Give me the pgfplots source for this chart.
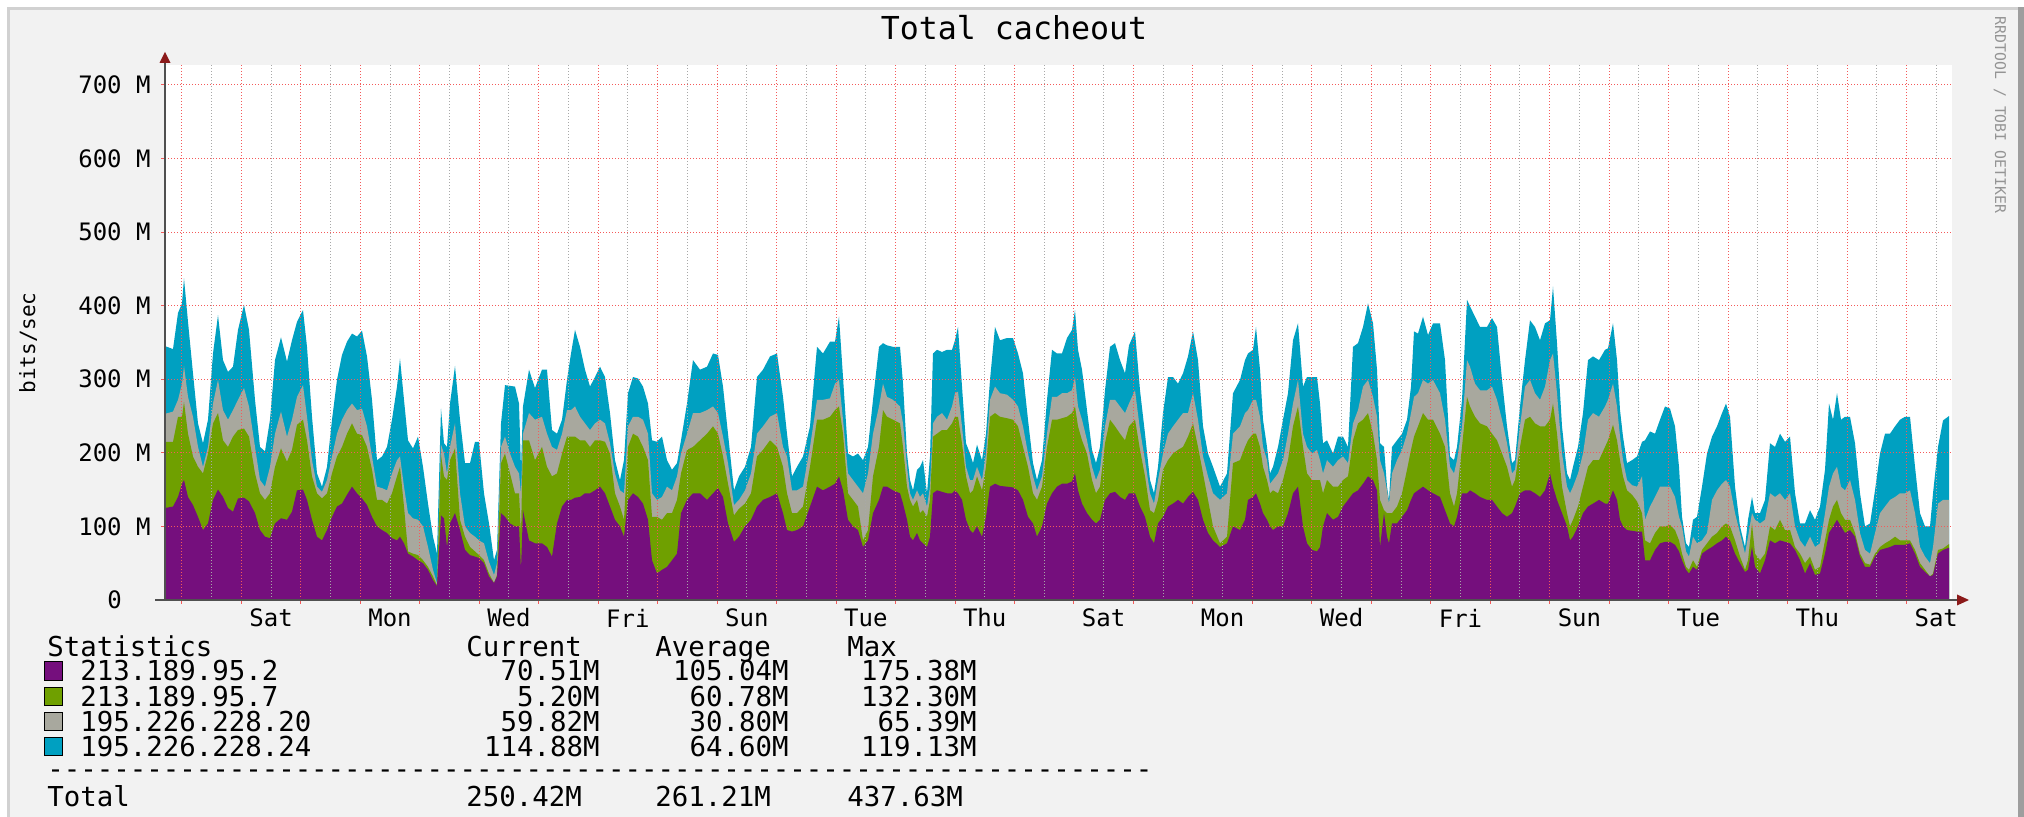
\documentclass[border=0pt]{standalone}
\usepackage{pgfplots}
\pgfplotsset{compat=1.18}
\usepackage{pgfplotstable}
\usepackage{fontspec}
\setmainfont{DejaVu Sans Mono}
\usetikzlibrary{arrows.meta}

\definecolor{cPur}{HTML}{750F7D}
\definecolor{cGrn}{HTML}{6FA000}
\definecolor{cGry}{HTML}{A8A89E}
\definecolor{cBlu}{HTML}{00A0C1}
\definecolor{bgc}{HTML}{F2F2F2}
\definecolor{mgrid}{HTML}{F45A5A}
\definecolor{ngrid}{HTML}{A8A8A8}
\definecolor{arrowc}{HTML}{8B1A1A}
\definecolor{axisc}{HTML}{505050}

\newcommand\leg{\fontsize{13.7pt}{16pt}\selectfont}

% X = time (one unit per pixel column of the RRD graph); columns = top of each stacked layer (M bits/sec)
% P = 213.189.95.2, G = P + 213.189.95.7, Y = G + 195.226.228.20, B = Y + 195.226.228.24
\pgfplotstableread{
X B Y G P
0 345 253 215 125
8 341 256 215 127
13 390 272 249 140
17 403 294 249 158
19 437 318 269 163
23 378 276 226 140
28 308 249 195 129
33 240 208 181 113
38 213 181 172 95
43 245 208 199 104
48 335 267 240 136
53 387 299 254 150
58 326 258 217 140
63 310 245 208 125
68 317 258 222 120
73 367 272 231 138
79 401 288 233 139
84 367 263 222 134
90 272 208 172 118
95 208 163 145 95
100 202 154 136 86
105 245 181 145 84
110 326 226 181 104
116 357 256 206 111
122 324 222 188 109
127 353 245 204 120
132 378 276 238 149
138 394 292 245 150
142 344 249 217 136
147 249 190 168 109
152 172 154 145 86
157 154 147 138 81
162 181 163 145 95
167 245 195 172 113
172 299 226 195 127
177 333 245 208 131
182 351 258 226 143
187 362 267 240 154
192 358 258 226 145
197 366 260 224 138
202 331 236 208 129
207 272 195 177 113
212 190 154 136 100
217 195 152 136 95
222 208 149 131 91
227 245 172 145 84
232 290 190 168 81
235 328 195 181 86
239 272 154 127 77
243 217 118 66 63
248 206 111 63 59
253 222 109 61 54
258 181 100 54 50
263 131 72 45 41
268 86 41 32 27
272 63 23 20 19
276 260 211 197 115
279 213 199 168 111
282 208 172 163 72
285 267 208 190 104
290 318 240 206 118
295 245 145 109 95
300 186 100 86 68
305 186 91 72 61
310 215 86 66 59
314 215 81 61 57
319 145 77 54 50
324 104 52 36 32
329 54 34 23 23
332 68 50 34 32
336 240 208 186 118
340 292 222 199 113
345 291 199 172 104
350 290 181 145 100
354 267 172 145 100
356 179 145 91 41
358 263 226 217 122
364 313 254 217 81
370 288 245 190 77
377 313 249 208 77
382 313 226 181 72
387 231 208 168 59
392 226 204 172 104
397 245 226 199 127
402 299 258 222 136
406 335 258 222 136
410 367 263 222 139
415 344 249 217 140
420 313 240 217 145
425 290 231 208 145
430 303 240 217 149
435 317 245 217 154
440 303 240 215 145
445 254 213 199 127
450 190 172 145 109
455 163 149 127 100
459 190 145 109 86
463 281 236 208 136
468 303 249 226 145
473 301 249 222 140
478 290 245 208 131
483 267 226 190 109
487 217 145 113 54
492 215 136 113 36
497 222 140 109 41
502 190 154 118 45
507 177 149 118 54
512 186 168 136 63
516 217 199 172 118
522 267 226 204 136
528 326 254 208 145
535 313 254 217 145
542 317 258 226 136
548 335 263 236 145
553 333 254 226 152
558 290 222 195 140
563 226 186 158 104
569 149 129 115 79
574 168 136 124 86
580 181 149 131 100
586 208 172 145 109
592 303 226 195 127
598 313 236 204 136
605 331 249 217 140
612 335 254 208 145
618 276 208 181 118
622 226 195 145 95
627 168 149 118 93
632 181 149 118 95
638 195 154 127 100
645 236 208 181 127
652 344 272 245 154
658 335 272 245 149
665 351 274 249 154
670 351 294 258 158
674 385 299 263 168
678 303 245 226 149
683 199 172 145 109
688 195 163 136 100
693 199 154 127 95
698 190 145 81 72
703 208 172 95 81
708 272 226 168 118
714 344 263 208 136
718 349 294 258 154
722 346 276 249 154
728 344 272 245 149
735 344 263 240 145
738 294 240 208 131
742 199 181 154 109
745 163 145 136 86
748 149 136 127 81
752 177 149 136 91
755 181 140 118 81
758 190 145 122 77
762 145 127 113 72
765 195 154 136 86
768 335 240 222 145
772 340 249 226 149
777 337 254 231 147
782 340 245 231 145
787 340 263 240 145
790 353 281 249 149
793 371 283 249 145
797 290 236 213 136
801 213 181 168 109
805 199 163 145 95
808 186 163 149 91
812 211 181 168 100
817 190 163 149 86
821 226 199 181 113
825 299 272 249 154
830 371 290 254 158
835 353 281 249 155
842 356 279 247 154
848 356 272 245 153
853 335 263 236 149
858 308 236 208 136
863 245 199 181 113
868 186 168 145 104
872 163 149 136 86
877 190 168 154 100
882 272 226 208 131
887 340 276 245 145
892 335 276 245 154
897 335 281 247 158
902 356 281 249 158
907 367 285 254 161
910 394 303 263 172
913 340 263 236 149
917 313 245 217 131
922 258 217 199 118
927 204 181 163 109
931 186 163 145 104
935 208 177 154 109
940 285 236 213 136
945 344 272 245 145
950 349 272 236 147
955 326 263 226 140
960 308 254 217 136
964 346 267 236 145
970 365 285 245 145
975 285 231 204 127
980 226 190 168 113
985 163 145 122 86
989 145 131 118 77
993 181 163 136 104
998 254 199 177 113
1003 303 226 190 127
1008 303 236 199 131
1013 294 245 204 136
1018 308 254 208 131
1023 331 254 222 140
1028 365 281 240 147
1033 326 245 208 136
1038 236 195 172 109
1043 199 168 136 91
1048 181 145 100 81
1055 154 136 77 72
1062 172 145 86 77
1068 281 226 186 100
1075 299 236 190 95
1080 326 254 208 109
1083 335 258 217 136
1088 340 272 226 140
1091 371 272 226 145
1095 313 249 208 131
1098 245 208 181 118
1102 208 190 163 109
1105 172 158 145 100
1108 181 163 149 95
1113 208 172 145 100
1118 245 190 163 100
1123 281 226 190 118
1128 353 267 236 145
1133 376 299 263 154
1138 290 226 208 100
1142 303 208 172 77
1147 303 199 163 68
1152 303 204 163 66
1155 267 190 163 72
1158 213 172 145 100
1162 217 190 163 118
1168 199 181 154 109
1173 222 190 154 113
1178 222 195 163 127
1183 208 186 168 136
1188 344 240 217 145
1193 349 258 240 149
1198 371 290 245 158
1203 403 299 254 168
1208 376 276 226 163
1212 313 249 190 149
1215 213 190 136 72
1219 208 172 122 118
1222 154 149 118 86
1224 136 131 118 77
1227 208 172 118 104
1232 217 190 127 104
1237 226 204 145 113
1242 245 226 177 122
1246 290 254 204 136
1249 365 276 222 145
1253 362 281 236 149
1258 385 299 254 154
1263 360 294 245 149
1268 376 299 245 145
1275 376 281 226 140
1280 326 245 208 122
1285 195 181 145 104
1289 190 172 127 100
1292 208 190 145 113
1297 272 236 208 145
1302 408 326 276 145
1305 399 317 263 149
1310 385 294 249 145
1315 371 285 240 140
1322 371 285 236 136
1327 383 290 226 136
1332 371 272 217 127
1337 299 245 199 118
1342 236 213 181 113
1347 186 172 154 118
1350 190 177 163 127
1355 263 236 208 145
1360 326 290 245 149
1365 380 299 249 149
1370 371 281 240 145
1375 353 272 236 140
1380 376 290 236 149
1385 380 326 245 172
1388 426 335 267 154
1392 349 281 226 136
1397 236 199 154 118
1402 172 154 118 100
1405 163 145 100 81
1408 181 154 109 86
1413 208 172 127 100
1418 254 199 154 118
1423 326 245 181 127
1428 331 254 190 131
1434 326 249 190 136
1440 340 263 208 131
1443 342 272 217 131
1448 376 294 238 149
1452 326 263 217 136
1455 258 222 190 109
1458 222 190 168 100
1462 186 163 149 95
1467 190 156 143 94
1472 195 154 134 93
1477 215 168 118 93
1480 217 109 81 54
1485 229 127 77 54
1490 226 140 91 68
1495 245 154 100 77
1500 263 154 100 79
1505 260 154 102 79
1510 236 140 95 75
1514 181 113 81 66
1517 113 100 63 54
1521 77 66 45 41
1524 72 59 41 36
1528 109 86 54 45
1532 113 77 45 41
1537 154 81 68 63
1542 199 91 77 68
1547 222 136 86 72
1552 236 149 91 77
1557 254 158 100 81
1561 267 163 104 86
1565 249 154 100 81
1570 154 118 81 63
1575 100 91 59 50
1580 72 63 41 38
1583 109 86 54 41
1587 140 118 104 72
1590 118 109 63 45
1595 118 104 54 36
1600 136 109 63 54
1605 213 145 100 81
1610 208 140 95 77
1615 226 145 109 81
1620 215 136 95 79
1625 222 145 95 77
1630 145 100 72 68
1635 104 81 63 54
1640 104 72 50 36
1645 122 86 59 50
1650 109 72 41 34
1655 127 77 45 36
1660 177 118 81 63
1664 267 154 109 91
1668 245 172 127 100
1672 281 181 136 109
1676 245 154 118 100
1680 249 149 109 91
1685 249 163 109 95
1690 213 136 91 86
1695 145 91 63 59
1700 100 68 50 45
1705 104 63 48 45
1710 149 91 63 59
1715 199 118 72 68
1720 226 127 77 70
1725 226 136 81 72
1730 236 140 86 75
1735 245 145 81 75
1740 249 145 81 75
1745 249 149 81 77
1750 181 118 68 63
1755 118 72 50 45
1760 100 59 41 38
1765 100 50 32 32
1768 145 72 36 34
1773 208 131 68 63
1778 244 136 70 68
1784 250 136 76 71
}\cacheout

\begin{document}
\begin{tikzpicture}
% ---- frame and background (units: pixels of the original image, y downwards)
\begin{scope}[x=0.5pt,y=-0.5pt]
  \fill[white] (0,0) rectangle (2024,817);
  \fill[bgc] (7,7) rectangle (2024,817);
  \fill[black!18] (7,7) rectangle (2018,10);
  \fill[black!18] (7,7) rectangle (10,817);
  \fill[black!38] (2018,7) rectangle (2024,817);
\end{scope}

\begin{axis}[
  at={(82.5pt,-300pt)}, anchor=south west,
  scale only axis, width=893.5pt, height=267.5pt,
  xmin=0, xmax=1787, ymin=0, ymax=727,
  axis line style={draw=none},
  axis background/.style={fill=white},
  axis on top,
  tick pos=left,
  tick align=outside,
  major tick length=2pt, minor tick length=0pt,
  xtick={16.9,76.37,...,1742},
  xticklabels={},
  minor xtick={46.6,106.07,...,1787},
  extra x ticks={106.07,225.01,...,1772},
  extra x tick labels={Sat,Mon,Wed,Fri,Sun,Tue,Thu,Sat,Mon,Wed,Fri,Sun,Tue,Thu,Sat},
  extra x tick style={grid=none, major tick length=0pt,
     xticklabel style={anchor=center, inner sep=0pt, yshift=-9pt}},
  ytick={0,100,...,700},
  yticklabels={0\hphantom{MM},100 M,200 M,300 M,400 M,500 M,600 M,700 M},
  yticklabel style={anchor=east, inner sep=0pt, xshift=-5pt},
  tick label style={font=\fontsize{12pt}{14pt}\selectfont, text=black},
  xmajorgrids, xminorgrids, ymajorgrids,
  major grid style={draw=mgrid, line width=0.5pt, dash pattern=on 0.5pt off 1pt},
  minor grid style={draw=ngrid, line width=0.5pt, dash pattern=on 0.5pt off 1pt},
  every tick/.style={draw=mgrid, line width=0.5pt},
  clip=false,
]
\addplot[fill=cBlu, draw=none] table[x=X,y=B]{\cacheout} \closedcycle;
\addplot[fill=cGry, draw=none] table[x=X,y=Y]{\cacheout} \closedcycle;
\addplot[fill=cGrn, draw=none] table[x=X,y=G]{\cacheout} \closedcycle;
\addplot[fill=cPur, draw=none] table[x=X,y=P]{\cacheout} \closedcycle;
\end{axis}

\begin{scope}[x=0.5pt,y=-0.5pt]
  % axis lines and arrows
  \draw[axisc, line width=0.75pt] (165,600) -- (165,62);
  \fill[arrowc] (159.5,63) -- (170.5,63) -- (165,52) -- cycle;
  \draw[axisc, line width=0.75pt] (155,600) -- (1958,600);
  \fill[arrowc] (1957,594.5) -- (1957,605.5) -- (1969,600) -- cycle;
  % title and side texts
  \node[font=\fontsize{15.8pt}{18pt}\selectfont] at (1014,28) {Total cacheout};
  \node[rotate=90, font=\fontsize{10.5pt}{12pt}\selectfont] at (28,343) {bits/sec};
  \node[rotate=-90, font=\fontsize{7.4pt}{9pt}\selectfont, text=black!42] at (2000,115) {RRDTOOL / TOBI OETIKER};
  % legend
  \begin{scope}[every node/.style={inner sep=0pt, font=\leg}]
  \node[anchor=base west] at (47,656) {Statistics};
  \node[anchor=base west] at (466,656) {Current};
  \node[anchor=base west] at (655,656) {Average};
  \node[anchor=base west] at (847,656) {Max};
  \filldraw[fill=cPur, draw=black, line width=0.5pt] (44,662) rectangle (62,680);
  \node[anchor=base west] at (80,681) {213.189.95.2};
  \node[anchor=base east] at (600,681) {70.51M};
  \node[anchor=base east] at (789,681) {105.04M};
  \node[anchor=base east] at (977,681) {175.38M};
  \filldraw[fill=cGrn, draw=black, line width=0.5pt] (44,687) rectangle (62,705);
  \node[anchor=base west] at (80,706) {213.189.95.7};
  \node[anchor=base east] at (600,706) {5.20M};
  \node[anchor=base east] at (789,706) {60.78M};
  \node[anchor=base east] at (977,706) {132.30M};
  \filldraw[fill=cGry, draw=black, line width=0.5pt] (44,712) rectangle (62,730);
  \node[anchor=base west] at (80,731) {195.226.228.20};
  \node[anchor=base east] at (600,731) {59.82M};
  \node[anchor=base east] at (789,731) {30.80M};
  \node[anchor=base east] at (977,731) {65.39M};
  \filldraw[fill=cBlu, draw=black, line width=0.5pt] (44,737) rectangle (62,755);
  \node[anchor=base west] at (80,756) {195.226.228.24};
  \node[anchor=base east] at (600,756) {114.88M};
  \node[anchor=base east] at (789,756) {64.60M};
  \node[anchor=base east] at (977,756) {119.13M};
  \foreach \i in {0,...,66} {
    \node[anchor=base west] at ({47+16.49*\i},778) {-};
  }
  \node[anchor=base west] at (47,806) {Total};
  \node[anchor=base west] at (466,806) {250.42M};
  \node[anchor=base west] at (655,806) {261.21M};
  \node[anchor=base west] at (847,806) {437.63M};
  \end{scope}
\end{scope}
\pgfresetboundingbox
\path[use as bounding box] (0,0) rectangle (1012pt,-408.5pt);
\end{tikzpicture}
\end{document}
